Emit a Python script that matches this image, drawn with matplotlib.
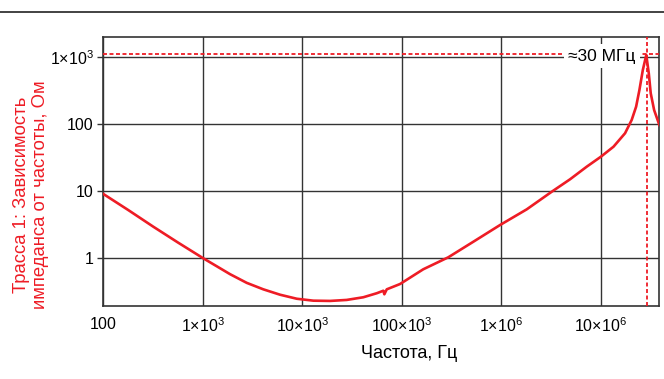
import matplotlib
matplotlib.use("Agg")
import matplotlib.pyplot as plt
from matplotlib.lines import Line2D

plt.rcParams['font.family'] = ['Liberation Sans', 'DejaVu Sans']
plt.rcParams['mathtext.fontset'] = 'custom'
plt.rcParams['mathtext.rm'] = 'Liberation Sans'
plt.rcParams['mathtext.default'] = 'regular'

# ===== Data =====
freq_hz = [100, 178, 318, 562, 1010, 1380, 1875, 2760, 4055, 5970, 8790,
           12.9e3, 19.0e3, 27.9e3, 41.0e3, 56.0e3, 65.2e3, 66.7e3, 70.5e3,
           95.9e3, 164e3, 293e3, 524e3, 971e3, 1.80e6, 3.21e6, 4.90e6,
           7.21e6, 10e6, 13.4e6, 17.5e6, 20.4e6, 22.6e6, 24.4e6, 26.4e6,
           28.6e6, 30.3e6, 31.7e6, 34.3e6, 38.7e6]
impedance_ohm = [9.12, 5.25, 2.96, 1.72, 1.0, 0.76, 0.58, 0.43, 0.344, 0.286,
                 0.249, 0.233, 0.231, 0.239, 0.262, 0.301, 0.328, 0.290, 0.344,
                 0.413, 0.685, 1.035, 1.77, 3.14, 5.38, 9.86, 15.1,
                 23.3, 32.8, 46.3, 73.5, 116, 183, 325, 646,
                 1081, 577, 290, 163, 97.7]

resonance_hz = 28.8e6
peak_ohm = 1120
resonance_label = "≈30 МГц"

x_ticks = [100, 1e3, 1e4, 1e5, 1e6, 1e7]
# "100" gets an empty superscript so every label has the same height
x_tick_labels = [r"100$^{\ }$", r"1$\times$10$^3$", r"10$\times$10$^3$",
                 r"100$\times$10$^3$", r"1$\times$10$^6$", r"10$\times$10$^6$"]
y_ticks = [1, 10, 100, 1000]
y_tick_labels = ["1", "10", "100", r"1$\times$10$^3$"]

x_title = "Частота, Гц"
y_title = "Трасса 1: Зависимость\nимпеданса от частоты, Ом"

RED = "#ee1c25"
GRID = "#333333"

# ===== Figure =====
fig = plt.figure(figsize=(6.64, 3.79), dpi=100)
ax = fig.add_axes([0.1556, 0.1926, 0.9930 - 0.1556, 0.9032 - 0.1926])

ax.set_xscale("log")
ax.set_yscale("log")
ax.set_xlim(100, 38.7e6)
ax.set_ylim(0.194, 2030)

ax.plot(freq_hz, impedance_ohm, color=RED, linewidth=1.9, zorder=5,
        solid_joinstyle="round")

# resonance markers
ax.axhline(peak_ohm, color=RED, linestyle=(0, (2.2, 1.4)), linewidth=1.3, zorder=3)
ax.axvline(resonance_hz, color=RED, linestyle=(0, (2.2, 1.4)), linewidth=1.3, zorder=3)
ax.text(1.03e7, 1030, resonance_label, fontsize=12.5, ha="center", va="center",
        zorder=4, bbox=dict(facecolor="white", edgecolor="none", pad=3.2))

# grid and ticks
ax.set_xticks(x_ticks)
ax.set_xticklabels(x_tick_labels)
ax.set_yticks(y_ticks)
ax.set_yticklabels(y_tick_labels)
ax.minorticks_off()
ax.grid(True, which="major", color=GRID, linewidth=1.0)
ax.tick_params(axis="x", length=0, pad=7.5, labelsize=11.5)
ax.tick_params(axis="y", length=4, width=1.0, color=GRID, pad=3, labelsize=11.5)
for s in ax.spines.values():
    s.set_color(GRID)
    s.set_linewidth(1.2)

# axis titles
fig.text(409 / 664, 1 - 354 / 379, x_title, fontsize=13, ha="center", va="center")
fig.text(31 / 664, 1 - 195 / 379, y_title, fontsize=13.3, color=RED,
         rotation=90, ha="center", va="center", multialignment="center",
         linespacing=1.15)

# top rule of the page
fig.add_artist(Line2D([0, 1], [1 - 12 / 379, 1 - 12 / 379], color="#222222",
                      linewidth=1.2, transform=fig.transFigure))

fig.savefig("out.png", dpi=100)
